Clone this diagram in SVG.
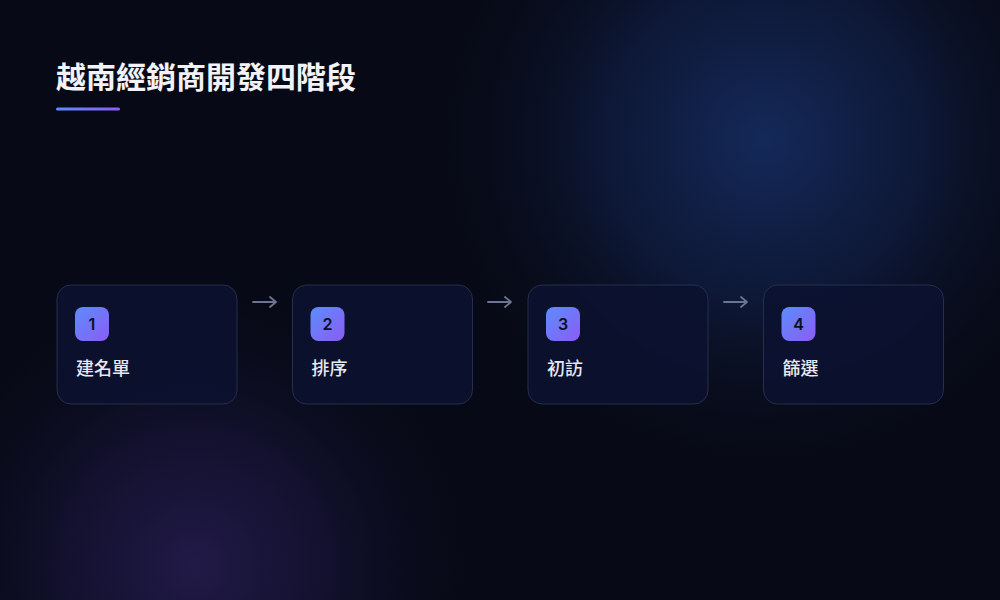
<svg xmlns="http://www.w3.org/2000/svg" width="1000" height="600" viewBox="0 0 1000 600">
<defs>
<radialGradient id="glowBlue" cx="765" cy="140" r="320" gradientUnits="userSpaceOnUse">
<stop offset="0" stop-color="#14295a" stop-opacity="1"/>
<stop offset="0.5" stop-color="#112048" stop-opacity="0.65"/>
<stop offset="1" stop-color="#0a1024" stop-opacity="0"/>
</radialGradient>
<radialGradient id="glowPurple" cx="195" cy="565" r="270" gradientUnits="userSpaceOnUse">
<stop offset="0" stop-color="#211a48" stop-opacity="1"/>
<stop offset="0.5" stop-color="#1a153d" stop-opacity="0.6"/>
<stop offset="1" stop-color="#0c0c22" stop-opacity="0"/>
</radialGradient>
<linearGradient id="badge" x1="0" y1="0" x2="1" y2="1">
<stop offset="0" stop-color="#5b8dfb"/>
<stop offset="1" stop-color="#8b5cf6"/>
</linearGradient>
<linearGradient id="bar" x1="0" y1="0" x2="1" y2="0">
<stop offset="0" stop-color="#5b8dfb"/>
<stop offset="1" stop-color="#8b5cf6"/>
</linearGradient>
</defs>
<style>
.card{fill:#0c1230;fill-opacity:0.85;stroke:#252e4a;stroke-width:1}
.badge{fill:url(#badge)}
.num{font-family:Inter,"Liberation Sans",sans-serif;font-size:16px;font-weight:600;fill:#0b1020;text-anchor:middle}
.label{font-family:"Noto Sans CJK TC","Noto Sans CJK SC",sans-serif;font-size:18px;font-weight:500;fill:#e6e9f2}
.title{font-family:"Noto Sans CJK TC","Noto Sans CJK SC",sans-serif;font-size:30px;font-weight:700;fill:#f1f3f8}
.conn{fill:none;stroke:#6b7592;stroke-width:1.8;stroke-linecap:round;stroke-linejoin:round}
</style>
<rect width="1000" height="600" fill="#070a16"/>
<rect width="1000" height="600" fill="url(#glowBlue)"/>
<rect width="1000" height="600" fill="url(#glowPurple)"/>
<g id="title">
<text class="title" x="56" y="88">越南經銷商開發四階段</text>
<rect x="56" y="107.5" width="64" height="3" rx="1.5" fill="url(#bar)"/>
</g>
<g id="connectors">
<path class="conn" d="M253 302 H276 M270 297 L276 302 L270 307"/>
<path class="conn" d="M488 302 H511 M505 297 L511 302 L505 307"/>
<path class="conn" d="M724 302 H747 M741 297 L747 302 L741 307"/>
</g>
<g id="node1">
<rect class="card" x="57" y="285" width="180" height="119" rx="14"/>
<rect class="badge" x="75" y="307" width="34" height="34" rx="8"/>
<text class="num" x="92" y="330">1</text>
<text class="label" x="76" y="375">建名單</text>
</g>
<g id="node2">
<rect class="card" x="292.5" y="285" width="180" height="119" rx="14"/>
<rect class="badge" x="310.5" y="307" width="34" height="34" rx="8"/>
<text class="num" x="327.5" y="330">2</text>
<text class="label" x="311.5" y="375">排序</text>
</g>
<g id="node3">
<rect class="card" x="528" y="285" width="180" height="119" rx="14"/>
<rect class="badge" x="546" y="307" width="34" height="34" rx="8"/>
<text class="num" x="563" y="330">3</text>
<text class="label" x="547" y="375">初訪</text>
</g>
<g id="node4">
<rect class="card" x="763.5" y="285" width="180" height="119" rx="14"/>
<rect class="badge" x="781.5" y="307" width="34" height="34" rx="8"/>
<text class="num" x="798.5" y="330">4</text>
<text class="label" x="782.5" y="375">篩選</text>
</g>
</svg>
